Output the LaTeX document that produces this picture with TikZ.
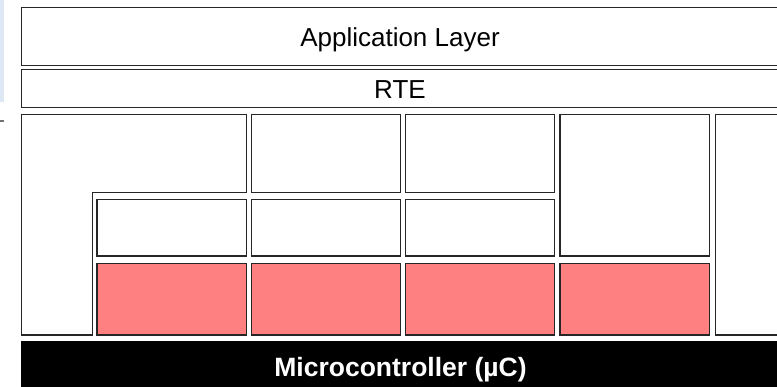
\documentclass[tikz,border=0pt]{standalone}
\usepackage{fontspec}
\setmainfont{Liberation Sans}
\definecolor{sidestrip}{RGB}{221,232,244}
\definecolor{hwred}{RGB}{255,128,128}
\tikzset{
  blk/.style={draw=black!85, line width=1.2pt, fill=white, inner sep=0pt, outer sep=0pt},
  redbox/.style={blk, fill=hwred},
  mcubox/.style={fill=black, draw=none, inner sep=0pt, outer sep=0pt},
  layertext/.style={font=\fontsize{26}{30}\selectfont, anchor=base, inner sep=0pt},
  mcutext/.style={font=\fontsize{26.5}{30}\selectfont\bfseries, text=white, anchor=base, inner sep=0pt},
}
\newcommand\bx[6]{\node[#6, minimum width={(#4-#2)*1pt}, minimum height={(#5-#3)*1pt}] (#1) at ({(#2+#4)/2},{(#3+#5)/2}) {};}
\begin{document}
\begin{tikzpicture}[x=1pt,y=-1pt]
\useasboundingbox (0,0) rectangle (777,386);
\clip (0,0) rectangle (777,386);
% left side decorations
\fill[sidestrip] (0,0) rectangle (4,102);
\draw[black!55, line width=1.2pt] (0,121) -- (4,121);
% layers
\bx{app}{21.7}{7.3}{779}{65.3}{blk}
\node[layertext] (applbl) at (400,46.7) {Application Layer};
\bx{rte}{21.7}{69.7}{779}{107.3}{blk}
\node[layertext] (rtelbl) at (400,98.3) {RTE};
% L-shaped box
\draw[blk] (21.7,114.3) -- (246.5,114.3) -- (246.5,192.5) -- (92.3,192.5) -- (92.3,335) -- (21.7,335) -- cycle;
% column 1
\bx{c1m}{97}{199.3}{246.5}{256}{blk}
\bx{c1r}{97}{263.7}{246.5}{335}{redbox}
% column 2
\bx{c2t}{251.5}{114.3}{400.5}{192.5}{blk}
\bx{c2m}{251.5}{199.3}{400.5}{256}{blk}
\bx{c2r}{251.5}{263.7}{400.5}{335}{redbox}
% column 3
\bx{c3t}{405.5}{114.3}{554.5}{192.5}{blk}
\bx{c3m}{405.5}{199.3}{554.5}{256}{blk}
\bx{c3r}{405.5}{263.7}{554.5}{335}{redbox}
% column 4
\bx{c4t}{560}{114.3}{709.5}{256}{blk}
\bx{c4r}{560}{263.7}{709.5}{335}{redbox}
% column 5
\bx{c5}{715.5}{114.3}{779}{335}{blk}
% microcontroller
\bx{mcu}{21}{341}{780}{388}{mcubox}
\node[mcutext] (mculbl) at (400.5,376.7) {Microcontroller (µC)};
\end{tikzpicture}
\end{document}
